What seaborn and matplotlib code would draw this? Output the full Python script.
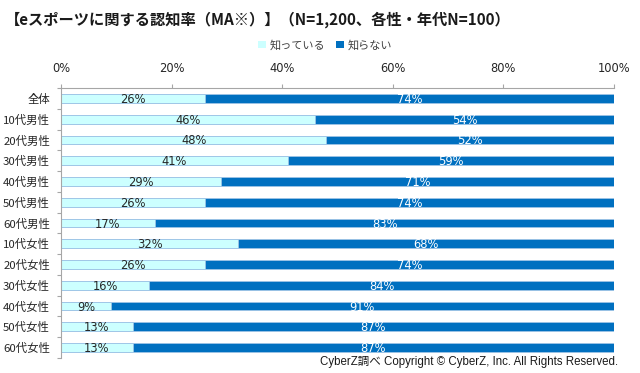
import matplotlib
matplotlib.use("Agg")
import matplotlib.pyplot as plt
import seaborn as sns
import pandas as pd
import numpy as np
from matplotlib.patches import Patch

categories = ["全体", "10代男性", "20代男性", "30代男性", "40代男性", "50代男性", "60代男性",
              "10代女性", "20代女性", "30代女性", "40代女性", "50代女性", "60代女性"]
known = [26, 46, 48, 41, 29, 26, 17, 32, 26, 16, 9, 13, 13]
unknown = [74, 54, 52, 59, 71, 74, 83, 68, 74, 84, 91, 87, 87]
series_names = ["知っている", "知らない"]
tick_values = [0, 20, 40, 60, 80, 100]

sns.set_theme(style="white")
plt.rcParams['font.family'] = ['Noto Sans CJK JP', 'DejaVu Sans']

c_known = "#CCFFFF"
c_unknown = "#0070C0"
c_edge = "#9DC3E6"

df = pd.DataFrame({"cat": categories, "known": known, "unknown": unknown})
df["total"] = df["known"] + df["unknown"]

fig = plt.figure(figsize=(6.4, 3.73), dpi=100)
ax = fig.add_axes([61/640, 1-358/373, (614-61)/640, (358-88)/373])

sns.barplot(data=df, x="total", y="cat", orient="h", color=c_unknown, width=0.42,
            edgecolor=c_edge, linewidth=0.6, saturation=1, ax=ax)
sns.barplot(data=df, x="known", y="cat", orient="h", color=c_known, width=0.42,
            edgecolor=c_edge, linewidth=0.6, saturation=1, ax=ax)

for i, (k, u) in enumerate(zip(known, unknown)):
    ax.text(k/2, i + 0.05, f"{k}%", ha="center", va="center", fontsize=8.3, color="#262626",
            fontfamily="DejaVu Sans")
    ax.text(k + u/2, i + 0.05, f"{u}%", ha="center", va="center", fontsize=8.3, color="white",
            fontfamily="DejaVu Sans")

ax.set_xlim(0, 100)
ax.set_ylim(len(categories) - 0.5, -0.5)
ax.xaxis.tick_top()
ax.set_xticks(tick_values)
ax.set_xticklabels([f"{v}%" for v in tick_values], fontsize=8.3, color="#262626",
                   fontfamily="DejaVu Sans")
ax.tick_params(axis="x", which="major", length=3, width=0.8, color="#A6A6A6", pad=6, top=True, bottom=False)
ax.set_yticks(np.arange(len(categories)))
ax.set_yticklabels(categories, fontsize=8.2, color="#262626")
ax.tick_params(axis="y", which="major", length=0, pad=8)
ax.set_yticks(np.arange(len(categories) + 1) - 0.5, minor=True)
ax.tick_params(axis="y", which="minor", length=3, width=0.8, color="#A6A6A6", left=True)
ax.set_xlabel("")
ax.set_ylabel("")
for s in ["right", "bottom"]:
    ax.spines[s].set_visible(False)
for s in ["top", "left"]:
    ax.spines[s].set_visible(True)
    ax.spines[s].set_color("#A6A6A6")
    ax.spines[s].set_linewidth(0.8)

fig.text(5/640, 1-20/373, "【eスポーツに関する認知率（MA※）】（N=1,200、各性・年代N=100）",
         fontsize=11, fontweight="bold", ha="left", va="center", color="#1a1a1a")

handles = [Patch(facecolor=c_known, edgecolor="none"), Patch(facecolor=c_unknown, edgecolor="none")]
fig.legend(handles, series_names, loc="center", bbox_to_anchor=(325/640, 1-45/373), ncol=2,
           frameon=False, fontsize=8, handlelength=0.7, handleheight=0.7, handletextpad=0.3,
           columnspacing=1.0, labelcolor="#404040")

fig.text(618/640, 1-362/373, "CyberZ調べ Copyright © CyberZ, Inc. All Rights Reserved.",
         fontsize=8.3, ha="right", va="center", color="#1a1a1a",
         fontfamily=["Liberation Sans", "Noto Sans CJK JP"])

fig.savefig("out.png", dpi=100)
